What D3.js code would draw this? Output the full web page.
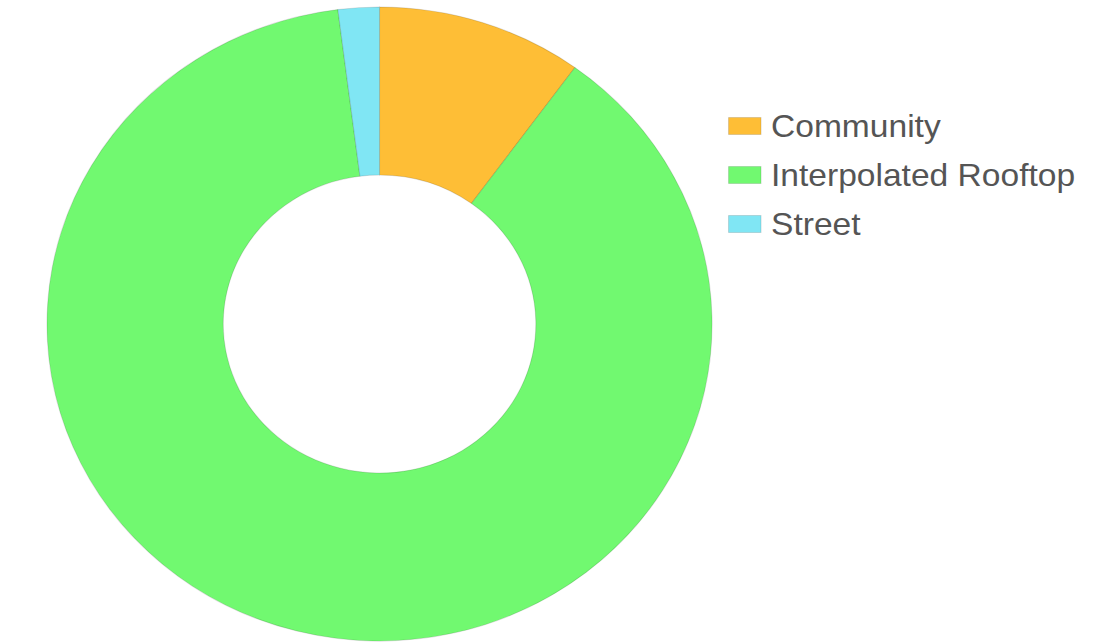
<!DOCTYPE html>
<html>
<head>
<meta charset="utf-8">
<script src="https://cdn.jsdelivr.net/npm/d3@7"></script>
<style>
  html, body { margin: 0; padding: 0; background: #fff; }
  svg { display: block; }
</style>
</head>
<body>
<svg id="chart" width="1099" height="643"></svg>
<script>
// Share of geocoded addresses by match type
const categories = ["Community", "Interpolated Rooftop", "Street"];
const shares = [10, 88, 2];
const colors = ["#FEBE36", "#71F970", "#80E6F4"];

const svg = d3.select("#chart");
// canvas is drawn slightly wider than tall
const root = svg.append("g").attr("transform", "scale(1.049,1)");

const cx = 361.8, cy = 324, outerR = 317, innerR = 149;

const pie = d3.pie().sort(null).value(d => d.value);
const arc = d3.arc().innerRadius(innerR).outerRadius(outerR);
const color = d3.scaleOrdinal().domain(categories).range(colors);

const data = categories.map((c, i) => ({ name: c, value: shares[i] }));

root.append("g")
  .attr("transform", `translate(${cx},${cy})`)
  .selectAll("path")
  .data(pie(data))
  .join("path")
  .attr("d", arc)
  .attr("fill", d => color(d.data.name))
  .attr("stroke", "rgba(0,0,0,0.13)")
  .attr("stroke-width", 1);

// legend
const legend = root.append("g").attr("transform", "translate(694,126)");
const rowStep = 49;
const item = legend.selectAll("g")
  .data(categories)
  .join("g")
  .attr("transform", (d, i) => `translate(0,${i * rowStep})`);

item.append("rect")
  .attr("x", 0.5)
  .attr("y", -8.5)
  .attr("width", 31)
  .attr("height", 17)
  .attr("fill", d => color(d))
  .attr("stroke", "rgba(0,0,0,0.12)")
  .attr("stroke-width", 1);

item.append("text")
  .attr("x", 41)
  .attr("y", 0)
  .attr("dy", "0.35em")
  .attr("font-family", "'Liberation Sans', Arial, sans-serif")
  .attr("font-size", 32)
  .attr("fill", "#555")
  .text(d => d);
</script>
</body>
</html>
